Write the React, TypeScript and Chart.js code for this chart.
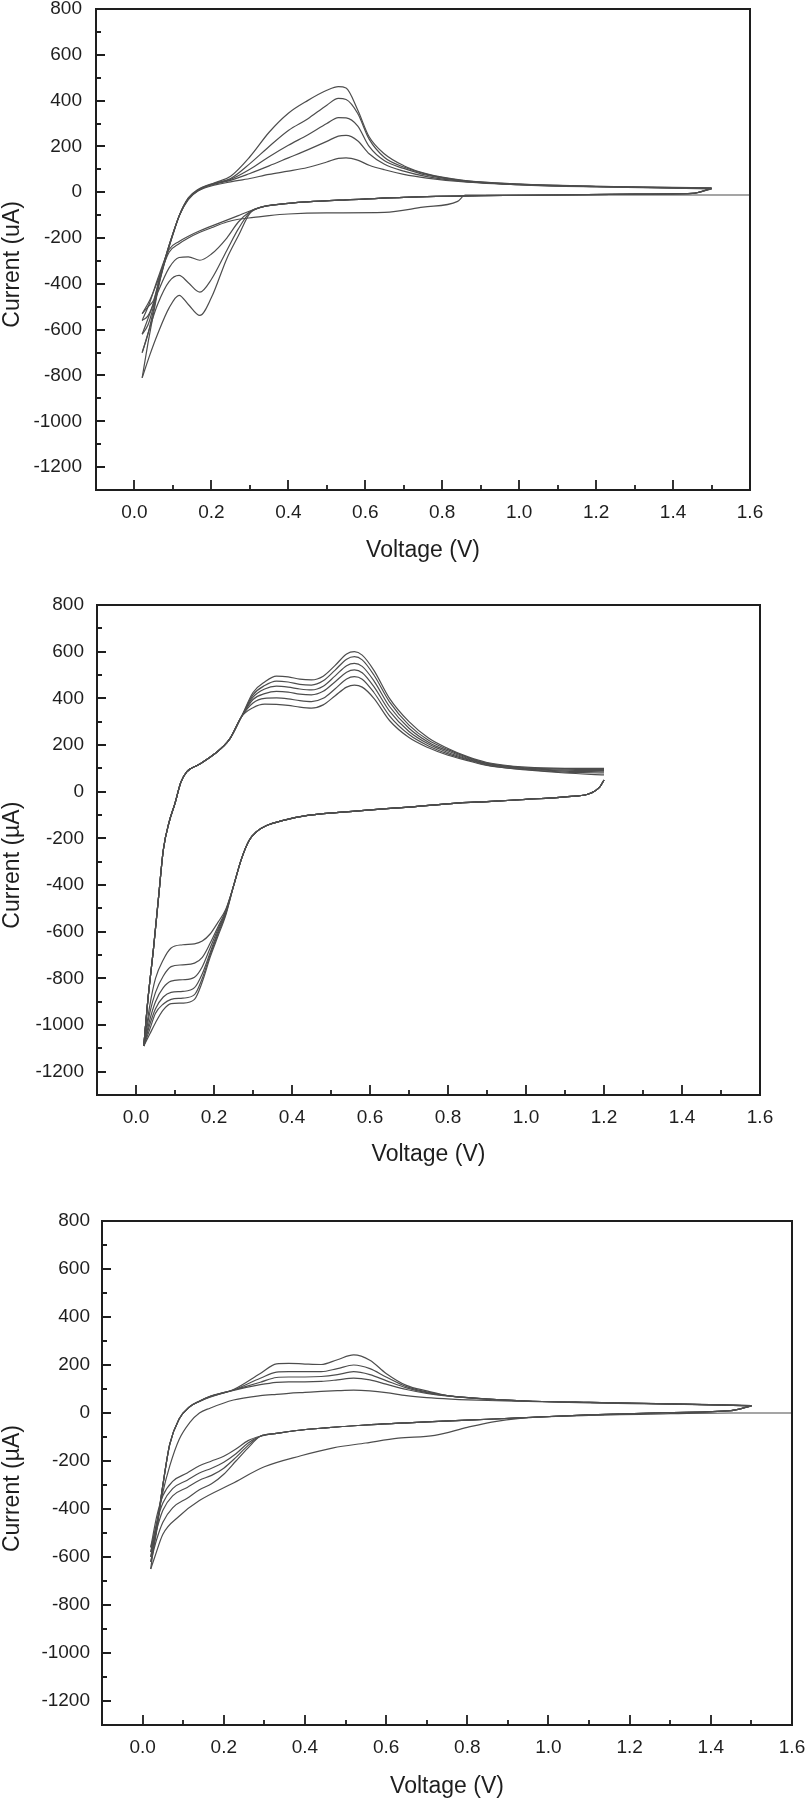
import React, { useEffect, useRef } from "react";
import { Chart, registerables } from "chart.js";

Chart.register(...registerables);

// ---------- axes (shared) ----------
const X_TICKS = [0, 0.2, 0.4, 0.6, 0.8, 1.0, 1.2, 1.4, 1.6];
const X_MINOR = [0.1, 0.3, 0.5, 0.7, 0.9, 1.1, 1.3, 1.5];
const Y_TICKS = [800, 600, 400, 200, 0, -200, -400, -600, -800, -1000, -1200];
const Y_MINOR = [700, 500, 300, 100, -100, -300, -500, -700, -900, -1100];
const X_TITLE = "Voltage (V)";
const Y_TITLE_1 = "Current (uA)";
const Y_TITLE_2 = "Current (\u00B5A)";
const Y_TITLE_3 = "Current (\u00B5A)";

// ---------- panel 1 (0.02 - 1.5 V) ----------
const C1_AN_V = [0.02, 0.035, 0.05, 0.065, 0.085, 0.1, 0.117, 0.14, 0.165, 0.21, 0.25, 0.3, 0.35, 0.4, 0.45, 0.5, 0.53, 0.55, 0.58, 0.61, 0.65, 0.7, 0.76, 0.85, 1.0, 1.2, 1.5];
const C1_AN_1 = [-530, -500, -470, -375, -258, -180, -100, -32, 5, 32, 45, 60, 78, 92, 108, 132, 148, 150, 140, 118, 98, 78, 62, 46, 32, 23, 15];
const C1_AN_2 = [-560, -540, -480, -380, -260, -180, -100, -30, 7, 36, 52, 82, 115, 150, 185, 222, 245, 248, 225, 168, 122, 92, 68, 48, 33, 24, 16];
const C1_AN_3 = [-620, -580, -495, -385, -262, -182, -100, -28, 9, 38, 56, 100, 155, 205, 250, 300, 326, 325, 290, 200, 137, 104, 74, 50, 34, 25, 17];
const C1_AN_4 = [-700, -620, -510, -390, -265, -183, -100, -26, 10, 40, 60, 125, 200, 270, 320, 380, 410, 405, 345, 232, 152, 110, 78, 52, 35, 26, 18];
const C1_AN_5 = [-810, -660, -525, -395, -268, -185, -100, -25, 12, 42, 70, 155, 262, 345, 400, 445, 461, 455, 360, 242, 167, 116, 80, 53, 36, 26, 19];

const C1_CA_V = [1.5, 1.45, 1.3, 1.1, 0.9, 0.7, 0.55, 0.45, 0.38, 0.33, 0.3, 0.27, 0.24, 0.2, 0.17, 0.14, 0.116, 0.09, 0.06, 0.04, 0.02];
const C1_CA_2 = [15, -5, -8, -12, -15, -22, -33, -42, -52, -65, -82, -102, -122, -148, -168, -192, -215, -250, -380, -480, -560];
const C1_CA_3 = [16, -5, -8, -12, -15, -22, -33, -42, -52, -65, -85, -130, -200, -270, -297, -282, -285, -330, -440, -530, -620];
const C1_CA_4 = [17, -5, -8, -12, -15, -22, -33, -42, -52, -65, -88, -160, -254, -380, -436, -395, -363, -390, -490, -590, -700];
const C1_CA_5 = [18, -5, -8, -12, -15, -22, -33, -42, -52, -65, -92, -190, -290, -460, -538, -490, -450, -505, -620, -710, -810];

const C1_FIRST_V = [1.6, 0.86, 0.84, 0.75, 0.65, 0.5, 0.4, 0.35, 0.31, 0.27, 0.24, 0.2, 0.17, 0.14, 0.116, 0.09, 0.06, 0.04, 0.02];
const C1_FIRST_I = [-12, -12, -40, -65, -88, -90, -95, -102, -110, -118, -130, -155, -175, -200, -225, -262, -390, -470, -530];

// ---------- panel 2 (0.02 - 1.2 V) ----------
const C2_AN_V = [0.02, 0.03, 0.045, 0.058, 0.07, 0.085, 0.1, 0.115, 0.13, 0.16, 0.2, 0.24, 0.27, 0.3, 0.33, 0.36, 0.39, 0.42, 0.45, 0.48, 0.51, 0.54, 0.56, 0.58, 0.61, 0.65, 0.7, 0.75, 0.8, 0.85, 0.9, 1.0, 1.1, 1.2];
const C2_AN_RISE = [-1090, -900, -670, -450, -250, -130, -50, 40, 85, 115, 160, 225, 320];
const C2_AN_1 = [425, 470, 495, 492, 482, 479, 495, 540, 590, 600, 585, 520, 400, 300, 230, 185, 150, 125, 105, 100, 100];
const C2_AN_2 = [415, 455, 474, 470, 460, 457, 475, 520, 568, 579, 565, 500, 385, 285, 220, 180, 147, 122, 102, 96, 95];
const C2_AN_3 = [405, 440, 452, 448, 440, 436, 452, 495, 540, 550, 537, 475, 365, 272, 212, 174, 143, 120, 100, 92, 90];
const C2_AN_4 = [395, 420, 430, 427, 418, 415, 430, 470, 512, 522, 510, 450, 345, 258, 204, 168, 140, 117, 98, 88, 85];
const C2_AN_5 = [380, 400, 402, 398, 390, 386, 400, 440, 483, 493, 482, 425, 325, 245, 196, 162, 137, 114, 95, 84, 80];
const C2_AN_6 = [360, 375, 374, 370, 362, 358, 372, 410, 448, 457, 448, 400, 305, 232, 188, 156, 133, 112, 93, 80, 72];

const C2_CA_V = [1.2, 1.19, 1.16, 1.1, 1.0, 0.9, 0.83, 0.7, 0.57, 0.44, 0.375, 0.335, 0.31, 0.29, 0.27, 0.25, 0.23, 0.21, 0.19, 0.17, 0.15, 0.12, 0.09, 0.07, 0.05, 0.035, 0.02];
const C2_CA_UPPER = [50, 22, -10, -22, -33, -43, -48, -66, -82, -102, -124, -145, -170, -209, -290, -405];
const C2_CA_1 = [-505, -560, -610, -640, -652, -656, -670, -720, -800, -920, -1090];
const C2_CA_2 = [-510, -580, -650, -710, -735, -742, -750, -790, -860, -950, -1090];
const C2_CA_3 = [-515, -590, -670, -750, -795, -806, -812, -840, -900, -980, -1090];
const C2_CA_4 = [-520, -600, -690, -780, -840, -856, -860, -880, -930, -1000, -1090];
const C2_CA_5 = [-525, -610, -700, -800, -870, -885, -890, -910, -950, -1020, -1090];
const C2_CA_6 = [-530, -620, -710, -815, -890, -906, -908, -935, -990, -1040, -1090];

// ---------- panel 3 (0.02 - 1.5 V) ----------
const C3_AN_V = [0.02, 0.034, 0.05, 0.067, 0.09, 0.116, 0.14, 0.166, 0.224, 0.29, 0.33, 0.36, 0.4, 0.44, 0.48, 0.52, 0.56, 0.6, 0.65, 0.7, 0.76, 0.85, 0.95, 1.1, 1.3, 1.5];
const C3_AN_1 = [-650, -480, -330, -220, -110, -40, 0, 20, 54, 72, 78, 82, 86, 90, 93, 95, 92, 85, 72, 64, 58, 52, 48, 42, 37, 30];
const C3_AN_2 = [-560, -470, -300, -130, -25, 26, 48, 66, 94, 118, 128, 130, 130, 132, 138, 145, 138, 120, 98, 82, 70, 58, 50, 44, 38, 30];
const C3_AN_3 = [-580, -480, -300, -130, -25, 26, 48, 68, 96, 128, 148, 150, 150, 152, 160, 172, 160, 135, 105, 85, 70, 58, 50, 44, 38, 30];
const C3_AN_4 = [-600, -490, -300, -130, -25, 26, 49, 68, 96, 145, 170, 172, 172, 172, 185, 200, 185, 150, 110, 88, 70, 58, 50, 44, 38, 31];
const C3_AN_5 = [-620, -500, -300, -130, -25, 26, 50, 70, 98, 165, 205, 207, 204, 202, 222, 242, 220, 165, 115, 92, 70, 58, 50, 44, 38, 31];

const C3_CA_V = [1.5, 1.45, 1.3, 1.1, 0.93, 0.8, 0.7, 0.55, 0.45, 0.38, 0.33, 0.29, 0.26, 0.23, 0.2, 0.17, 0.14, 0.11, 0.074, 0.05, 0.035, 0.02];
const C3_CA_UPPER = [30, 10, 2, -8, -20, -30, -37, -50, -62, -73, -85, -97];
const C3_CA_2 = [-115, -150, -180, -200, -220, -250, -285, -345, -430, -560];
const C3_CA_3 = [-125, -170, -205, -230, -250, -280, -315, -375, -455, -580];
const C3_CA_4 = [-135, -185, -230, -260, -280, -310, -345, -405, -485, -600];
const C3_CA_5 = [-145, -200, -255, -295, -320, -355, -395, -455, -525, -620];

const C3_FIRST_V = [1.6, 1.45, 1.3, 1.1, 0.93, 0.86, 0.8, 0.72, 0.63, 0.55, 0.47, 0.39, 0.3, 0.22, 0.14, 0.09, 0.05, 0.03, 0.02];
const C3_FIRST_I = [0, 0, -3, -10, -22, -38, -60, -93, -105, -125, -145, -178, -224, -295, -365, -430, -505, -600, -650];

// ---------- helpers ----------
type Pt = { x: number; y: number };
const zip = (vs: number[], is: number[]): Pt[] => vs.map((v, i) => ({ x: v, y: is[i] }));

const FONT = '"Liberation Sans", Arial, Helvetica, sans-serif';
const INK = "#1e1e1e";
const TRACE = "#4d4d4d";

const PANEL1_SERIES: Pt[][] = [
  zip(C1_FIRST_V, C1_FIRST_I),
  zip(C1_AN_V, C1_AN_1),
  zip(C1_CA_V, C1_CA_2),
  zip(C1_AN_V, C1_AN_2),
  zip(C1_CA_V, C1_CA_3),
  zip(C1_AN_V, C1_AN_3),
  zip(C1_CA_V, C1_CA_4),
  zip(C1_AN_V, C1_AN_4),
  zip(C1_CA_V, C1_CA_5),
  zip(C1_AN_V, C1_AN_5),
];

const PANEL2_SERIES: Pt[][] = [
  C2_AN_1, C2_AN_2, C2_AN_3, C2_AN_4, C2_AN_5, C2_AN_6,
].map((tail) => zip(C2_AN_V, C2_AN_RISE.concat(tail))).concat(
  [C2_CA_1, C2_CA_2, C2_CA_3, C2_CA_4, C2_CA_5, C2_CA_6].map((tail) =>
    zip(C2_CA_V, C2_CA_UPPER.concat(tail))
  )
);

const PANEL3_SERIES: Pt[][] = [
  zip(C3_FIRST_V, C3_FIRST_I),
  zip(C3_AN_V, C3_AN_1),
  zip(C3_CA_V, C3_CA_UPPER.concat(C3_CA_2)),
  zip(C3_AN_V, C3_AN_2),
  zip(C3_CA_V, C3_CA_UPPER.concat(C3_CA_3)),
  zip(C3_AN_V, C3_AN_3),
  zip(C3_CA_V, C3_CA_UPPER.concat(C3_CA_4)),
  zip(C3_AN_V, C3_AN_4),
  zip(C3_CA_V, C3_CA_UPPER.concat(C3_CA_5)),
  zip(C3_AN_V, C3_AN_5),
];

// frame, inward ticks and rotated y title
const framePlugin = {
  id: "cvFrame",
  afterDraw(chart: any, _args: any, opts: any) {
    const { ctx, chartArea: a } = chart;
    const x = chart.scales.x;
    const y = chart.scales.y;
    ctx.save();
    ctx.strokeStyle = INK;
    ctx.lineWidth = 2;
    ctx.strokeRect(a.left, a.top, a.right - a.left, a.bottom - a.top);
    ctx.lineWidth = 1.8;
    ctx.beginPath();
    X_TICKS.forEach((v) => {
      const p = Math.round(x.getPixelForValue(v));
      ctx.moveTo(p, a.bottom);
      ctx.lineTo(p, a.bottom - 10);
    });
    X_MINOR.forEach((v) => {
      const p = Math.round(x.getPixelForValue(v));
      ctx.moveTo(p, a.bottom);
      ctx.lineTo(p, a.bottom - 5);
    });
    Y_TICKS.forEach((v) => {
      const p = Math.round(y.getPixelForValue(v));
      ctx.moveTo(a.left, p);
      ctx.lineTo(a.left + 9, p);
    });
    Y_MINOR.forEach((v) => {
      const p = Math.round(y.getPixelForValue(v));
      ctx.moveTo(a.left, p);
      ctx.lineTo(a.left + 5, p);
    });
    ctx.stroke();
    // y title
    const yc = y.getPixelForValue(opts.titleAt);
    ctx.translate(opts.titleX, yc);
    ctx.rotate(-Math.PI / 2);
    ctx.font = `23px ${FONT}`;
    ctx.fillStyle = INK;
    ctx.textAlign = "center";
    ctx.textBaseline = "middle";
    ctx.fillText(opts.title, 0, 0);
    ctx.restore();
  },
};

interface PanelSpec {
  top: number;
  height: number;
  left: number;
  right: number;
  plotTop: number;
  plotBottom: number;
  yPad: number;
  titlePad: number;
  yTitle: string;
  series: Pt[][];
}

const PANELS: PanelSpec[] = [
  { top: 0, height: 580, left: 96, right: 750, plotTop: 9, plotBottom: 490, yPad: 14, titlePad: 16, yTitle: Y_TITLE_1, series: PANEL1_SERIES },
  { top: 580, height: 600, left: 97, right: 760, plotTop: 25, plotBottom: 515, yPad: 13, titlePad: 12, yTitle: Y_TITLE_2, series: PANEL2_SERIES },
  { top: 1180, height: 620, left: 102, right: 792, plotTop: 41, plotBottom: 545, yPad: 12, titlePad: 0, yTitle: Y_TITLE_3, series: PANEL3_SERIES },
];

function makeConfig(spec: PanelSpec): any {
  const tickFont = { family: FONT, size: 19 };
  return {
    type: "scatter",
    data: {
      datasets: spec.series.map((pts) => ({
        data: pts,
        showLine: true,
        borderColor: TRACE,
        borderWidth: 1.2,
        pointRadius: 0,
        cubicInterpolationMode: "monotone",
        fill: false,
      })),
    },
    options: {
      responsive: false,
      animation: false,
      devicePixelRatio: 1,
      events: [],
      layout: { padding: { top: spec.plotTop, right: 805 - spec.right, left: 0, bottom: 0 } },
      plugins: {
        legend: { display: false },
        tooltip: { enabled: false },
        cvFrame: { title: spec.yTitle, titleAt: -315, titleX: 13 },
      },
      scales: {
        x: {
          type: "linear",
          min: -0.1,
          max: 1.6,
          grid: { display: false, drawTicks: false },
          border: { display: false },
          afterBuildTicks: (s: any) => {
            s.ticks = X_TICKS.map((v) => ({ value: v }));
          },
          afterFit: (s: any) => {
            s.height = spec.height - spec.plotBottom;
            s.paddingLeft = 0;
            s.paddingRight = 0;
          },
          ticks: {
            font: tickFont,
            color: INK,
            padding: 11,
            autoSkip: false,
            maxRotation: 0,
            callback: (v: any) => Number(v).toFixed(1),
          },
          title: {
            display: true,
            text: X_TITLE,
            color: INK,
            font: { family: FONT, size: 23 },
            padding: { top: 0, bottom: spec.titlePad },
          },
        },
        y: {
          type: "linear",
          min: -1300,
          max: 800,
          grid: { display: false, drawTicks: false },
          border: { display: false },
          afterBuildTicks: (s: any) => {
            s.ticks = Y_TICKS.map((v) => ({ value: v }));
          },
          afterFit: (s: any) => {
            s.width = spec.left;
            s.paddingTop = 0;
            s.paddingBottom = 0;
          },
          ticks: {
            font: tickFont,
            color: INK,
            padding: spec.yPad,
            autoSkip: false,
            callback: (v: any) => String(v),
          },
        },
      },
    },
    plugins: [framePlugin],
  };
}

function Panel({ spec }: { spec: PanelSpec }) {
  const ref = useRef<HTMLCanvasElement | null>(null);
  useEffect(() => {
    if (!ref.current) return;
    const chart = new Chart(ref.current, makeConfig(spec));
    return () => chart.destroy();
  }, [spec]);
  return (
    <canvas
      ref={ref}
      width={805}
      height={spec.height}
      style={{ position: "absolute", left: 0, top: spec.top, width: 805, height: spec.height, display: "block" }}
    />
  );
}

export default function App() {
  return (
    <div style={{ position: "absolute", left: 0, top: 0, width: 805, height: 1800, background: "#ffffff", overflow: "hidden" }}>
      {PANELS.map((p, i) => (
        <Panel key={i} spec={p} />
      ))}
    </div>
  );
}
